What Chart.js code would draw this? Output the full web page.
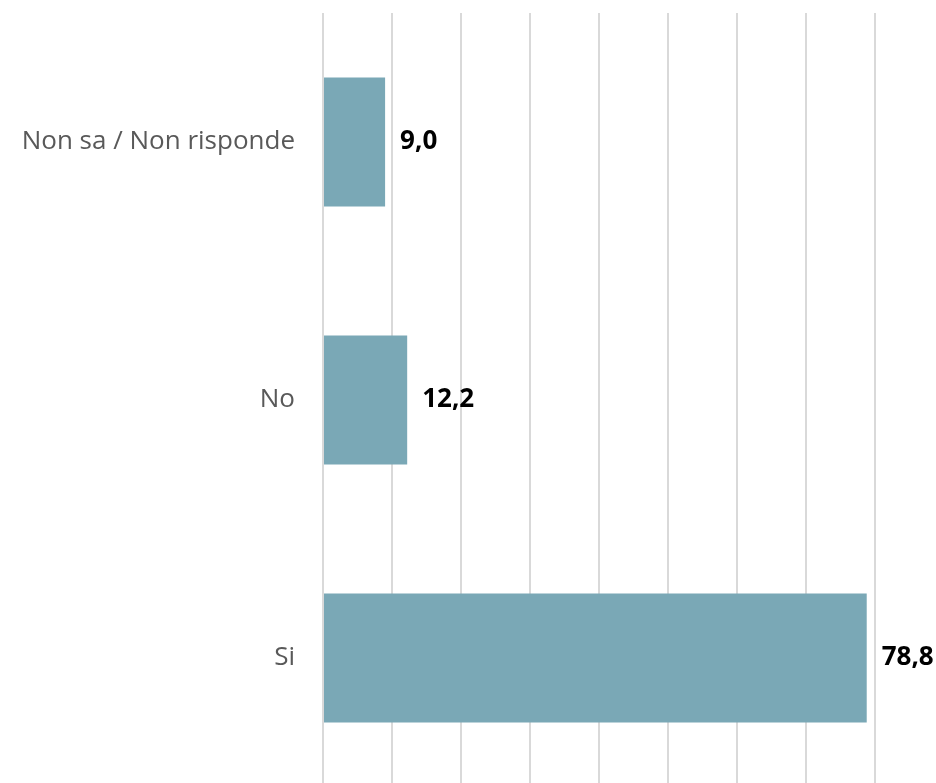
<!DOCTYPE html>
<html>
<head>
<meta charset="utf-8">
<script src="https://cdn.jsdelivr.net/npm/chart.js@4/dist/chart.umd.min.js"></script>
<style>
  html, body { margin: 0; padding: 0; background: #fff; overflow: hidden; }
  canvas { display: block; }
</style>
</head>
<body>
<canvas id="chart" width="936" height="790"></canvas>
<script>
// dati
const categories = ['Non sa / Non risponde', 'No', 'Si'];
const values = [9.0, 12.2, 78.8];
const xTicks = [0, 10, 20, 30, 40, 50, 60, 70, 80];

const barColor = '#7aa8b6';
const labelFont = '"Open Sans", "Liberation Sans", sans-serif';

// etichette dei valori a destra delle barre
const valueLabels = {
    id: 'valueLabels',
    afterDatasetsDraw(chart) {
        const ctx = chart.ctx;
        const meta = chart.getDatasetMeta(0);
        ctx.save();
        ctx.font = 'bold 26px ' + labelFont;
        ctx.fillStyle = '#000';
        ctx.textAlign = 'left';
        ctx.textBaseline = 'middle';
        meta.data.forEach((bar, i) => {
            const txt = values[i].toFixed(1).replace('.', ',');
            ctx.fillText(txt, bar.x + 15, bar.y);
        });
        ctx.restore();
    }
};

const ctx = document.getElementById('chart').getContext('2d');
new Chart(ctx, {
    type: 'bar',
    data: {
        labels: categories,
        datasets: [{
            data: values,
            backgroundColor: barColor,
            borderWidth: 0,
            barPercentage: 0.5,
            categoryPercentage: 1
        }]
    },
    options: {
        indexAxis: 'y',
        responsive: false,
        animation: false,
        layout: { padding: { top: 13, right: 61, bottom: 3, left: 0 } },
        plugins: {
            legend: { display: false },
            tooltip: { enabled: false }
        },
        scales: {
            x: {
                min: 0,
                max: 80,
                afterBuildTicks(scale) {
                    scale.ticks = xTicks.map(v => ({ value: v }));
                },
                afterFit(scale) {
                    scale.height = 0;
                    scale.paddingLeft = 0;
                    scale.paddingRight = 0;
                },
                ticks: { display: false },
                grid: { color: '#d9d9d9', lineWidth: 2, drawTicks: false },
                border: { display: false }
            },
            y: {
                afterFit(scale) {
                    scale.width = 323;
                    scale.paddingTop = 0;
                    scale.paddingBottom = 0;
                },
                ticks: {
                    color: '#595959',
                    padding: 28,
                    font: { family: labelFont, size: 26 }
                },
                grid: { display: false, drawTicks: false },
                border: { display: false }
            }
        }
    },
    plugins: [valueLabels]
});
</script>
</body>
</html>
